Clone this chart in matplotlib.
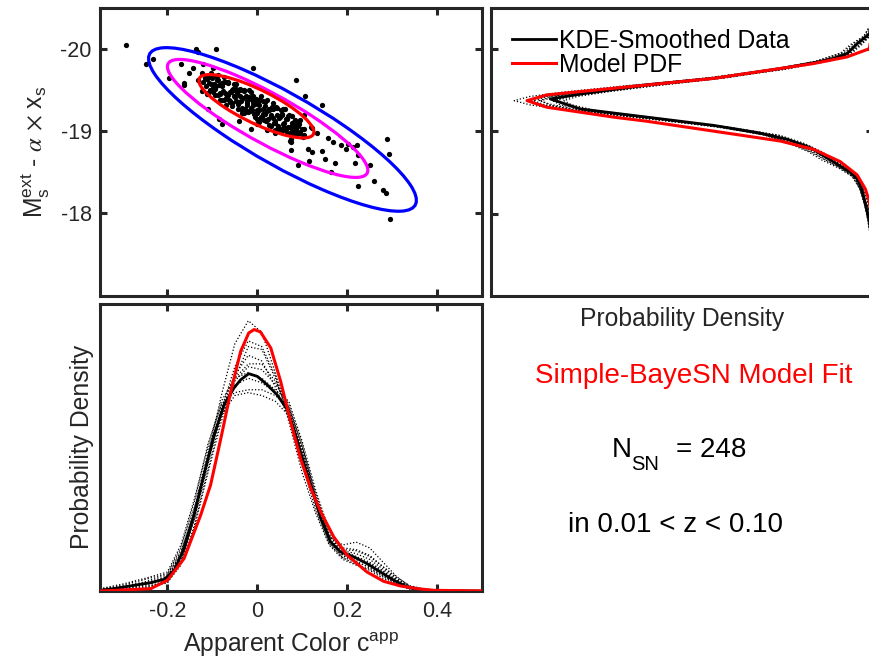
import numpy as np
import matplotlib
matplotlib.use("Agg")
import matplotlib.pyplot as plt
from matplotlib.patches import Ellipse

plt.rcParams['font.family'] = ['Liberation Sans', 'DejaVu Sans']
plt.rcParams['mathtext.fontset'] = 'stix'
plt.rcParams['axes.unicode_minus'] = False

# ---------------------------------------------------------------- data
# supernova sample: apparent colour c and standardised magnitude M
core_color = [
    -0.123, -0.120, -0.117, -0.114, -0.111, -0.108, -0.105, -0.102, -0.099, -0.096,
    -0.093, -0.090, -0.087, -0.084, -0.081, -0.078, -0.075, -0.072, -0.069, -0.066,
    -0.063, -0.060, -0.057, -0.054, -0.051, -0.048, -0.045, -0.042, -0.039, -0.036,
    -0.033, -0.030, -0.027, -0.024, -0.021, -0.018, -0.015, -0.012, -0.009, -0.006,
    -0.003, 0.000, 0.003, 0.006, 0.009, 0.012, 0.015, 0.018, 0.021, 0.024,
    0.027, 0.030, 0.033, 0.036, 0.039, 0.042, 0.045, 0.048, 0.051, 0.054,
    0.057, 0.060, 0.063, 0.066, 0.069, 0.072, 0.075, 0.078, 0.081, 0.084,
    0.087, 0.090, 0.093, 0.096, 0.099, 0.102, 0.105,
    -0.1125, -0.1095, -0.1065, -0.1035, -0.1005, -0.0975, -0.0945, -0.0915, -0.0885, -0.0855,
    -0.0825, -0.0795, -0.0765, -0.0735, -0.0705, -0.0675, -0.0645, -0.0615, -0.0585, -0.0555,
    -0.0525, -0.0495, -0.0465, -0.0435, -0.0405, -0.0375, -0.0345, -0.0315, -0.0285, -0.0255,
    -0.0225, -0.0195, -0.0165, -0.0135, -0.0105, -0.0075, -0.0045, -0.0015, 0.0015, 0.0045,
    0.0075, 0.0105, 0.0135, 0.0165, 0.0195, 0.0225, 0.0255, 0.0285, 0.0315, 0.0345,
    0.0375, 0.0405, 0.0435, 0.0465, 0.0495, 0.0525, 0.0555, 0.0585, 0.0615, 0.0645,
    0.0675, 0.0705, 0.0735, 0.0765, 0.0795, 0.0825, 0.0855, 0.0885, 0.0915, 0.0945,
    -0.0915, -0.0870, -0.0825, -0.0780, -0.0735, -0.0690, -0.0645, -0.0600, -0.0555, -0.0510,
    -0.0465, -0.0420, -0.0375, -0.0330, -0.0285, -0.0240, -0.0195, -0.0150, -0.0105, -0.0060,
    -0.0015, 0.0030, 0.0075, 0.0120, 0.0165, 0.0210, 0.0255, 0.0300, 0.0345, 0.0390,
    0.0435, 0.0480, 0.0525, 0.0570, 0.0615, 0.0660,
]
core_mag = [
    -19.708, -19.594, -19.641, -19.542, -19.649, -19.580, -19.501, -19.703, -19.474, -19.576,
    -19.437, -19.618, -19.680, -19.461, -19.562, -19.374, -19.595, -19.467, -19.318, -19.599,
    -19.371, -19.472, -19.334, -19.515, -19.576, -19.358, -19.459, -19.271, -19.492, -19.363,
    -19.215, -19.496, -19.267, -19.369, -19.230, -19.412, -19.473, -19.254, -19.356, -19.167,
    -19.389, -19.260, -19.111, -19.393, -19.164, -19.266, -19.127, -19.308, -19.370, -19.151,
    -19.253, -19.064, -19.285, -19.157, -19.008, -19.289, -19.061, -19.162, -19.024, -19.205,
    -19.266, -19.048, -19.149, -18.961, -19.182, -19.053, -18.905, -19.186, -18.958, -19.059,
    -18.975, -19.062, -19.088, -18.974, -19.021, -18.922, -19.029,
    -19.633, -19.455, -19.656, -19.567, -19.649, -19.520, -19.512, -19.663, -19.434, -19.556,
    -19.377, -19.578, -19.490, -19.651, -19.403, -19.434, -19.585, -19.357, -19.478, -19.300,
    -19.501, -19.412, -19.574, -19.325, -19.357, -19.508, -19.279, -19.401, -19.222, -19.423,
    -19.335, -19.496, -19.248, -19.279, -19.430, -19.202, -19.323, -19.145, -19.346, -19.257,
    -19.419, -19.170, -19.202, -19.353, -19.124, -19.246, -19.067, -19.269, -19.180, -19.341,
    -19.093, -19.124, -19.275, -19.047, -19.168, -18.990, -19.191, -19.102, -19.264, -19.015,
    -19.047, -19.198, -18.969, -19.091, -18.982, -19.114, -19.025, -19.106, -18.978, -18.989,
    -19.543, -19.620, -19.447, -19.544, -19.371, -19.598, -19.435, -19.362, -19.499, -19.426,
    -19.504, -19.331, -19.428, -19.255, -19.482, -19.319, -19.246, -19.383, -19.310, -19.387,
    -19.214, -19.311, -19.139, -19.366, -19.203, -19.130, -19.267, -19.194, -19.271, -19.098,
    -19.195, -19.022, -19.249, -19.086, -19.014, -19.151,
]
outer_color = [
    -0.293, -0.248, -0.232, -0.136, -0.131, -0.092, -0.170, -0.144, -0.151, -0.121,
    -0.099, -0.010, -0.164, -0.124, -0.110, -0.085, -0.078, 0.087, 0.106, 0.144,
    -0.015, 0.022, 0.039, 0.072, 0.076, 0.091, 0.104, 0.112, 0.122, 0.115,
    0.122, 0.132, 0.144, 0.150, 0.163, 0.174, 0.169, 0.187, 0.201, 0.213,
    0.221, 0.218, 0.224, 0.250, 0.259, 0.279, 0.287, 0.289, 0.294, 0.296,
    0.225, 0.197, 0.157, 0.105, 0.085, 0.120, 0.076, 0.074, -0.133, -0.163,
    -0.196, -0.113, 0.000, -0.040, 0.096,
]
outer_mag = [
    -20.05, -19.81, -19.88, -20.00, -19.96, -20.00, -19.81, -19.77, -19.70, -19.81,
    -19.77, -19.76, -19.58, -19.49, -19.27, -19.15, -19.08, -19.62, -19.43, -19.32,
    -19.02, -19.01, -18.98, -18.88, -18.77, -18.59, -18.95, -18.78, -18.75, -18.64,
    -19.03, -18.97, -18.76, -18.66, -18.50, -18.61, -18.86, -18.83, -18.84, -18.80,
    -18.83, -18.61, -18.33, -18.59, -18.39, -18.28, -18.25, -18.90, -18.72, -17.93,
    -18.71, -18.78, -18.92, -19.19, -19.13, -19.05, -18.87, -19.03, -19.62, -19.56,
    -19.64, -19.45, -19.08, -19.12, -19.13,
]

# model confidence contours: centre, widths and correlation in (c, M)
contour_c0 = [0.056, 0.023, -0.002]
contour_m0 = [-19.018, -19.152, -19.300]
contour_sig_c = [0.298, 0.223, 0.128]
contour_sig_m = [0.994, 0.717, 0.385]
contour_rho = [0.866, 0.878, 0.812]
contour_colors = ['#0000ff', '#ff00ff', '#ff0000']

# colour marginal (bottom panel)
kde_c = [-0.348, -0.311, -0.274, -0.237, -0.207, -0.185, -0.163, -0.141, -0.119, -0.096,
         -0.074, -0.052, -0.037, -0.019, 0.000, 0.022, 0.044, 0.067, 0.081, 0.096,
         0.119, 0.141, 0.163, 0.185, 0.215, 0.244, 0.274, 0.304, 0.333, 0.363,
         0.393, 0.500]
kde_c_dens = [0.012, 0.052, 0.099, 0.145, 0.203, 0.360, 0.738, 1.320, 2.017, 2.715,
              3.238, 3.529, 3.674, 3.779, 3.733, 3.587, 3.413, 3.151, 2.831, 2.424,
              1.843, 1.262, 0.855, 0.680, 0.593, 0.477, 0.331, 0.186, 0.070, 0.023,
              0.006, 0.000]
model_c = [-0.348, -0.237, -0.200, -0.163, -0.126, -0.104, -0.081, -0.059, -0.037, -0.019,
           -0.007, 0.007, 0.030, 0.052, 0.074, 0.096, 0.119, 0.141, 0.170, 0.200,
           0.244, 0.281, 0.319, 0.356, 0.393, 0.501]
model_c_dens = [0.000, 0.041, 0.186, 0.564, 1.320, 1.843, 2.657, 3.471, 4.169, 4.488,
                4.547, 4.506, 4.227, 3.645, 2.948, 2.308, 1.785, 1.378, 0.942, 0.622,
                0.331, 0.169, 0.087, 0.041, 0.012, 0.000]
boot_c = [-0.35, -0.30, -0.25, -0.20, -0.17, -0.14, -0.11, -0.08, -0.05, -0.02,
          0.01, 0.04, 0.07, 0.10, 0.13, 0.16, 0.19, 0.22, 0.25, 0.28,
          0.31, 0.34, 0.38, 0.45, 0.50]
boot_c_dens = [
    [0.00, 0.02, 0.06, 0.18, 0.55, 1.30, 2.35, 3.40, 4.30, 4.70, 4.50, 3.80, 2.95, 2.05, 1.35, 0.80, 0.55, 0.45, 0.38, 0.25, 0.12, 0.04, 0.01, 0, 0],
    [0.02, 0.08, 0.16, 0.28, 0.70, 1.45, 2.40, 3.20, 3.75, 4.10, 4.00, 3.55, 3.00, 2.35, 1.55, 0.90, 0.70, 0.65, 0.55, 0.38, 0.20, 0.07, 0.01, 0, 0],
    [0.00, 0.04, 0.10, 0.20, 0.50, 1.15, 2.10, 3.05, 3.65, 3.90, 3.85, 3.60, 3.25, 2.50, 1.70, 1.00, 0.62, 0.50, 0.42, 0.28, 0.14, 0.05, 0.01, 0, 0],
    [0.03, 0.10, 0.20, 0.30, 0.75, 1.55, 2.55, 3.25, 3.45, 3.50, 3.50, 3.40, 3.20, 2.55, 1.65, 0.95, 0.80, 0.85, 0.75, 0.50, 0.25, 0.08, 0.02, 0, 0],
    [0.00, 0.03, 0.08, 0.15, 0.45, 1.10, 2.05, 2.95, 3.70, 4.25, 4.20, 3.70, 3.05, 2.20, 1.40, 0.82, 0.58, 0.52, 0.40, 0.26, 0.13, 0.04, 0.01, 0, 0],
    [0.01, 0.06, 0.14, 0.25, 0.66, 1.40, 2.30, 3.05, 3.40, 3.45, 3.40, 3.30, 3.05, 2.45, 1.60, 0.95, 0.75, 0.72, 0.62, 0.42, 0.22, 0.07, 0.01, 0, 0],
    [0.02, 0.07, 0.12, 0.22, 0.60, 1.25, 2.20, 3.15, 3.90, 4.35, 4.25, 3.75, 3.15, 2.30, 1.50, 0.85, 0.58, 0.46, 0.36, 0.22, 0.10, 0.03, 0.01, 0, 0],
    [0.04, 0.12, 0.22, 0.33, 0.80, 1.60, 2.50, 3.30, 3.70, 3.80, 3.70, 3.50, 3.30, 2.60, 1.75, 1.05, 0.70, 0.60, 0.50, 0.35, 0.18, 0.06, 0.01, 0, 0],
    [0.00, 0.02, 0.05, 0.14, 0.50, 1.25, 2.25, 3.15, 3.70, 3.95, 3.95, 3.65, 3.15, 2.40, 1.60, 0.95, 0.72, 0.70, 0.60, 0.42, 0.24, 0.09, 0.02, 0, 0],
    [0.01, 0.05, 0.11, 0.24, 0.64, 1.38, 2.32, 3.12, 3.58, 3.70, 3.62, 3.45, 3.20, 2.50, 1.62, 0.90, 0.62, 0.55, 0.48, 0.34, 0.18, 0.06, 0.01, 0, 0],
]

# magnitude marginal (top-right panel)
kde_m = [-20.40, -20.25, -20.18, -20.06, -19.94, -19.88, -19.83, -19.76, -19.70, -19.64,
         -19.56, -19.45, -19.39, -19.27, -19.17, -19.07, -18.98, -18.90, -18.80, -18.70,
         -18.60, -18.50, -18.42, -18.30, -18.15, -18.00, -17.90, -17.70, -17.50, -17.00]
kde_m_dens = [0.002, 0.010, 0.021, 0.085, 0.138, 0.208, 0.313, 0.487, 0.661, 0.836,
              1.185, 1.534, 1.691, 1.534, 1.185, 0.836, 0.600, 0.450, 0.330, 0.260,
              0.190, 0.120, 0.085, 0.060, 0.045, 0.030, 0.020, 0.008, 0.002, 0.000]
model_m = [-20.50, -20.30, -20.15, -20.00, -19.90, -19.82, -19.76, -19.70, -19.64, -19.60,
           -19.56, -19.52, -19.48, -19.44, -19.37, -19.29, -19.23, -19.17, -19.12, -19.06,
           -19.00, -18.94, -18.88, -18.78, -18.63, -18.47, -18.30, -18.15, -17.90, -17.50,
           -17.00]
model_m_dens = [0.000, 0.003, 0.010, 0.021, 0.138, 0.313, 0.487, 0.661, 0.836, 1.011,
                1.185, 1.360, 1.534, 1.709, 1.813, 1.709, 1.534, 1.360, 1.185, 1.011,
                0.836, 0.661, 0.487, 0.313, 0.173, 0.085, 0.042, 0.021, 0.008, 0.001,
                0.000]
boot_m = [-20.5, -20.3, -20.15, -20.05, -19.95, -19.85, -19.75, -19.65, -19.55, -19.48,
          -19.42, -19.37, -19.32, -19.25, -19.15, -19.05, -18.95, -18.85, -18.75, -18.65,
          -18.55, -18.45, -18.3, -18.15, -18.0, -17.8, -17.5, -17.0]
boot_m_dens = [
    [0, 0.004, 0.02, 0.07, 0.12, 0.25, 0.48, 0.82, 1.30, 1.60, 1.80, 1.88, 1.80, 1.60, 1.18, 0.80, 0.52, 0.38, 0.28, 0.20, 0.13, 0.08, 0.05, 0.03, 0.02, 0.01, 0.002, 0],
    [0, 0.01, 0.05, 0.12, 0.17, 0.30, 0.52, 0.78, 1.15, 1.38, 1.55, 1.62, 1.58, 1.45, 1.10, 0.78, 0.56, 0.44, 0.34, 0.27, 0.18, 0.11, 0.07, 0.05, 0.035, 0.02, 0.005, 0],
    [0, 0.006, 0.03, 0.09, 0.14, 0.26, 0.50, 0.84, 1.26, 1.50, 1.68, 1.75, 1.68, 1.52, 1.14, 0.77, 0.50, 0.37, 0.28, 0.22, 0.14, 0.09, 0.06, 0.04, 0.025, 0.012, 0.003, 0],
    [0, 0.003, 0.02, 0.06, 0.11, 0.23, 0.46, 0.78, 1.20, 1.46, 1.66, 1.74, 1.70, 1.55, 1.18, 0.82, 0.55, 0.41, 0.31, 0.23, 0.15, 0.10, 0.07, 0.05, 0.03, 0.015, 0.003, 0],
    [0, 0.008, 0.04, 0.10, 0.15, 0.28, 0.49, 0.76, 1.14, 1.40, 1.58, 1.66, 1.62, 1.49, 1.13, 0.80, 0.57, 0.43, 0.33, 0.25, 0.17, 0.11, 0.07, 0.05, 0.035, 0.02, 0.005, 0],
    [0, 0.005, 0.025, 0.08, 0.13, 0.27, 0.53, 0.86, 1.28, 1.52, 1.70, 1.78, 1.72, 1.55, 1.14, 0.76, 0.49, 0.36, 0.27, 0.20, 0.13, 0.085, 0.055, 0.035, 0.02, 0.01, 0.002, 0],
    [0, 0.012, 0.05, 0.11, 0.16, 0.29, 0.50, 0.80, 1.18, 1.42, 1.60, 1.68, 1.64, 1.50, 1.12, 0.79, 0.56, 0.43, 0.32, 0.25, 0.17, 0.10, 0.07, 0.05, 0.03, 0.02, 0.004, 0],
    [0, 0.004, 0.02, 0.07, 0.12, 0.24, 0.47, 0.80, 1.24, 1.50, 1.72, 1.82, 1.74, 1.56, 1.16, 0.79, 0.53, 0.39, 0.29, 0.21, 0.14, 0.09, 0.06, 0.04, 0.02, 0.01, 0.002, 0],
]

color_ticks = [-0.2, 0.0, 0.2, 0.4]
color_ticklabels = ['-0.2', '0', '0.2', '0.4']
mag_ticks = [-20, -19, -18]
mag_ticklabels = ['-20', '-19', '-18']

# ---------------------------------------------------------------- layout
W, H = 869, 660
fig = plt.figure(figsize=(W / 100, H / 100), dpi=100)
fig.patch.set_facecolor('white')

AX_COL = '#262626'
FRAME_LW = 2.2
TICK_FS = 15.5
LABEL_FS = 17.8
DOTTED = (0, (1, 1.6))


def add_ax(left, top, right, bottom):
    return fig.add_axes([left / W, 1 - bottom / H, (right - left) / W, (bottom - top) / H])


def style(ax, pad=6):
    for s in ax.spines.values():
        s.set_linewidth(FRAME_LW)
        s.set_color(AX_COL)
    ax.tick_params(which='both', direction='in', length=5.2, width=FRAME_LW,
                   color=AX_COL, labelcolor=AX_COL, labelsize=TICK_FS, pad=pad,
                   top=True, right=True)


ax_sc = add_ax(100, 7.5, 482, 295.5)
ax_mg = add_ax(491.3, 7.5, 873.3, 296)
ax_cd = add_ax(100, 303.5, 482, 591)

# ---- scatter with contours
style(ax_sc)
ax_sc.plot(core_color + outer_color, core_mag + outer_mag, 'o', color='black',
           markersize=3.8, markeredgewidth=0, zorder=2)
for c0, m0, sc, sm, rho, col in zip(contour_c0, contour_m0, contour_sig_c,
                                    contour_sig_m, contour_rho, contour_colors):
    cov = np.array([[sc ** 2, rho * sc * sm], [rho * sc * sm, sm ** 2]])
    vals, vecs = np.linalg.eigh(cov)
    ang = np.degrees(np.arctan2(vecs[1, 1], vecs[0, 1]))
    ax_sc.add_patch(Ellipse((c0, m0), 2 * np.sqrt(vals[1]), 2 * np.sqrt(vals[0]),
                            angle=ang, fill=False, ec=col, lw=2.3, zorder=3))
ax_sc.set_xlim(-0.35, 0.5)
ax_sc.set_ylim(-17, -20.5)
ax_sc.set_xticks(color_ticks)
ax_sc.set_xticklabels([])
ax_sc.set_yticks(mag_ticks)
ax_sc.set_yticklabels(mag_ticklabels)
ax_sc.set_ylabel(r'$\mathregular{M_s^{ext}}$ - $\alpha$ $\times$ $\mathregular{x_s}$',
                 fontsize=LABEL_FS, color=AX_COL, labelpad=6)

# ---- magnitude marginal
style(ax_mg)
for dens in boot_m_dens:
    ax_mg.plot(dens, boot_m, color='black', lw=0.9, ls=DOTTED, zorder=1)
l_kde, = ax_mg.plot(kde_m_dens, kde_m, color='black', lw=2.0, zorder=2)
l_mod, = ax_mg.plot(model_m_dens, model_m, color='red', lw=2.2, zorder=3)
ax_mg.set_xlim(2.0, 0.0)
ax_mg.set_ylim(-17, -20.5)
ax_mg.set_yticks(mag_ticks)
ax_mg.set_yticklabels([])
ax_mg.set_xticks([])
ax_mg.set_xlabel('Probability Density', fontsize=LABEL_FS, color=AX_COL, labelpad=8)
ax_mg.legend([l_kde, l_mod], ['KDE-Smoothed Data', 'Model PDF'], loc='upper left',
             bbox_to_anchor=(0.054, 0.927), frameon=False, fontsize=LABEL_FS,
             handlelength=1.8, handletextpad=0.1, labelspacing=0.0,
             borderaxespad=0, borderpad=0)

# ---- colour marginal
style(ax_cd, pad=7)
for dens in boot_c_dens:
    ax_cd.plot(boot_c, dens, color='black', lw=0.9, ls=DOTTED, zorder=1)
ax_cd.plot(kde_c, kde_c_dens, color='black', lw=2.0, zorder=2)
ax_cd.plot(model_c, model_c_dens, color='red', lw=2.2, zorder=3)
ax_cd.set_xlim(-0.35, 0.5)
ax_cd.set_ylim(0, 5.0)
ax_cd.set_xticks(color_ticks)
ax_cd.set_xticklabels(color_ticklabels)
ax_cd.set_yticks([])
ax_cd.set_xlabel(r'Apparent Color $\mathregular{c^{app}}$', fontsize=LABEL_FS,
                 color=AX_COL, labelpad=6)
ax_cd.set_ylabel('Probability Density', fontsize=LABEL_FS, color=AX_COL, labelpad=4)

# ---- annotation block
fig.text(535 / W, 1 - 383 / H, 'Simple-BayeSN Model Fit', color='red',
         fontsize=20, ha='left', va='baseline')
fig.text(611.7 / W, 1 - 457.3 / H, 'N', color='black', fontsize=20, ha='left', va='baseline')
fig.text(631.5 / W, 1 - 470 / H, 'SN', color='black', fontsize=14.5, ha='left', va='baseline')
fig.text(675.5 / W, 1 - 457.3 / H, '= 248', color='black', fontsize=20, ha='left', va='baseline')
fig.text(568.3 / W, 1 - 531.7 / H, 'in 0.01 < z < 0.10', color='black',
         fontsize=20, ha='left', va='baseline')

fig.savefig('out.png', dpi=100, facecolor='white')
